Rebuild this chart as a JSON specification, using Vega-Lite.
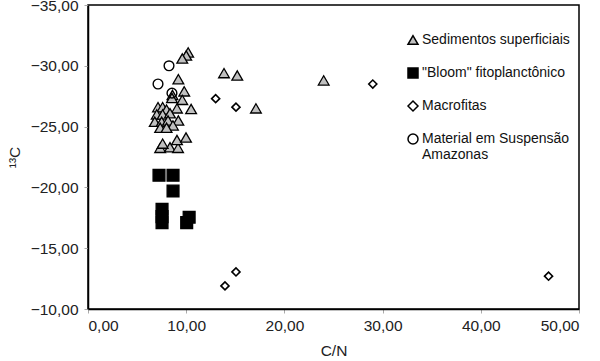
{
  "$schema": "https://vega.github.io/schema/vega-lite/v6.json",
  "width": 491,
  "height": 304,
  "autosize": "none",
  "padding": {"left": 88, "top": 5, "right": 21, "bottom": 52},
  "background": "white",
  "config": {
    "font": "Liberation Sans",
    "view": {"stroke": "#000000", "strokeWidth": 1.5},
    "axis": {
      "grid": false,
      "domainColor": "#000000",
      "domainWidth": 1.5,
      "tickColor": "#aaaaaa",
      "tickSize": 4,
      "labelFontSize": 15.5,
      "labelColor": "#222222",
      "titleFontSize": 15.5,
      "titleFontWeight": "normal",
      "titleColor": "#222222"
    }
  },
  "data": {
    "values": [
      {"cn": 10.2, "c13": -31.1, "serie": "Sedimentos superficiais"},
      {"cn": 10.0, "c13": -30.85, "serie": "Sedimentos superficiais"},
      {"cn": 9.6, "c13": -30.6, "serie": "Sedimentos superficiais"},
      {"cn": 9.2, "c13": -28.9, "serie": "Sedimentos superficiais"},
      {"cn": 9.8, "c13": -27.9, "serie": "Sedimentos superficiais"},
      {"cn": 8.6, "c13": -27.6, "serie": "Sedimentos superficiais"},
      {"cn": 9.6, "c13": -27.2, "serie": "Sedimentos superficiais"},
      {"cn": 8.55, "c13": -27.35, "serie": "Sedimentos superficiais"},
      {"cn": 10.5, "c13": -26.45, "serie": "Sedimentos superficiais"},
      {"cn": 9.06, "c13": -26.5, "serie": "Sedimentos superficiais"},
      {"cn": 7.13, "c13": -26.6, "serie": "Sedimentos superficiais"},
      {"cn": 7.6, "c13": -26.6, "serie": "Sedimentos superficiais"},
      {"cn": 8.0, "c13": -26.4, "serie": "Sedimentos superficiais"},
      {"cn": 7.0, "c13": -26.0, "serie": "Sedimentos superficiais"},
      {"cn": 7.6, "c13": -26.0, "serie": "Sedimentos superficiais"},
      {"cn": 8.35, "c13": -26.1, "serie": "Sedimentos superficiais"},
      {"cn": 9.2, "c13": -25.5, "serie": "Sedimentos superficiais"},
      {"cn": 6.8, "c13": -25.4, "serie": "Sedimentos superficiais"},
      {"cn": 7.5, "c13": -25.4, "serie": "Sedimentos superficiais"},
      {"cn": 8.15, "c13": -25.5, "serie": "Sedimentos superficiais"},
      {"cn": 8.65, "c13": -25.1, "serie": "Sedimentos superficiais"},
      {"cn": 7.35, "c13": -24.9, "serie": "Sedimentos superficiais"},
      {"cn": 8.0, "c13": -24.9, "serie": "Sedimentos superficiais"},
      {"cn": 7.35, "c13": -23.25, "serie": "Sedimentos superficiais"},
      {"cn": 8.35, "c13": -23.3, "serie": "Sedimentos superficiais"},
      {"cn": 9.17, "c13": -23.25, "serie": "Sedimentos superficiais"},
      {"cn": 9.06, "c13": -23.9, "serie": "Sedimentos superficiais"},
      {"cn": 9.98, "c13": -24.1, "serie": "Sedimentos superficiais"},
      {"cn": 7.6, "c13": -23.6, "serie": "Sedimentos superficiais"},
      {"cn": 13.85, "c13": -29.4, "serie": "Sedimentos superficiais"},
      {"cn": 15.2, "c13": -29.2, "serie": "Sedimentos superficiais"},
      {"cn": 24.0, "c13": -28.8, "serie": "Sedimentos superficiais"},
      {"cn": 17.1, "c13": -26.5, "serie": "Sedimentos superficiais"},
      {"cn": 7.23, "c13": -21.0, "serie": "\"Bloom\" fitoplanctônico"},
      {"cn": 8.66, "c13": -21.0, "serie": "\"Bloom\" fitoplanctônico"},
      {"cn": 8.66, "c13": -19.7, "serie": "\"Bloom\" fitoplanctônico"},
      {"cn": 7.54, "c13": -18.2, "serie": "\"Bloom\" fitoplanctônico"},
      {"cn": 7.54, "c13": -17.6, "serie": "\"Bloom\" fitoplanctônico"},
      {"cn": 7.54, "c13": -17.1, "serie": "\"Bloom\" fitoplanctônico"},
      {"cn": 10.3, "c13": -17.55, "serie": "\"Bloom\" fitoplanctônico"},
      {"cn": 10.05, "c13": -17.1, "serie": "\"Bloom\" fitoplanctônico"},
      {"cn": 13.0, "c13": -27.3, "serie": "Macrofitas"},
      {"cn": 15.07, "c13": -26.6, "serie": "Macrofitas"},
      {"cn": 29.0, "c13": -28.5, "serie": "Macrofitas"},
      {"cn": 13.95, "c13": -11.9, "serie": "Macrofitas"},
      {"cn": 15.07, "c13": -13.05, "serie": "Macrofitas"},
      {"cn": 46.9, "c13": -12.7, "serie": "Macrofitas"},
      {"cn": 8.25, "c13": -30.0, "serie": "Material em Suspensão Amazonas"},
      {"cn": 7.13, "c13": -28.5, "serie": "Material em Suspensão Amazonas"},
      {"cn": 8.55, "c13": -27.75, "serie": "Material em Suspensão Amazonas"}
    ]
  },
  "encoding": {
    "x": {
      "field": "cn", "type": "quantitative", "title": "C/N",
      "scale": {"domain": [0, 50], "nice": false, "zero": false},
      "axis": {"values": [0, 10, 20, 30, 40, 50], "labelExpr": "replace(format(datum.value, '.2f'), '.', ',')", "labelPadding": 5, "titlePadding": 10}
    },
    "y": {
      "field": "c13", "type": "quantitative", "title": "¹³C",
      "scale": {"domain": [-35, -10], "reverse": true, "nice": false, "zero": false},
      "axis": {"values": [-35, -30, -25, -20, -15, -10], "labelExpr": "replace(format(datum.value, '.2f'), '.', ',')", "labelPadding": 6, "titlePadding": 8}
    },
    "shape": {
      "field": "serie", "type": "nominal",
      "scale": {
        "domain": ["Sedimentos superficiais", "\"Bloom\" fitoplanctônico", "Macrofitas", "Material em Suspensão Amazonas"],
        "range": ["triangle-up", "square", "diamond", "circle"]
      },
      "legend": {
        "title": null,
        "orient": "none",
        "legendX": 318,
        "legendY": 28,
        "padding": 0,
        "rowPadding": 17,
        "symbolSize": 100,
        "labelFontSize": 14,
        "labelColor": "#111111",
        "labelOffset": 2,
        "labelLimit": 300,
        "labelExpr": "datum.label == 'Material em Suspensão Amazonas' ? ['Material em Suspensão', 'Amazonas'] : datum.label",
        "encode": {
          "symbols": {"update": {"stroke": {"value": "#000000"}, "strokeWidth": {"value": 1.4}, "opacity": {"value": 1}}},
          "labels": {"update": {"dy": {"signal": "datum.label == 'Material em Suspensão Amazonas' ? 8 : 0"}}}
        }
      }
    },
    "fill": {
      "field": "serie", "type": "nominal",
      "scale": {
        "domain": ["Sedimentos superficiais", "\"Bloom\" fitoplanctônico", "Macrofitas", "Material em Suspensão Amazonas"],
        "range": ["#c0c0c0", "#000000", "#ffffff", "transparent"]
      }
    }
  },
  "layer": [
    {
      "transform": [{"filter": "datum.serie == 'Sedimentos superficiais'"}],
      "mark": {"type": "point", "filled": true, "stroke": "#000000", "strokeWidth": 1.3, "opacity": 1, "size": 115}
    },
    {
      "transform": [{"filter": "datum.serie == '\"Bloom\" fitoplanctônico'"}],
      "mark": {"type": "point", "filled": true, "stroke": "#000000", "strokeWidth": 1.3, "opacity": 1, "size": 140}
    },
    {
      "transform": [{"filter": "datum.serie == 'Macrofitas'"}],
      "mark": {"type": "point", "filled": true, "stroke": "#000000", "strokeWidth": 1.6, "opacity": 1, "size": 65}
    },
    {
      "transform": [{"filter": "datum.serie == 'Material em Suspensão Amazonas'"}],
      "mark": {"type": "point", "filled": true, "stroke": "#000000", "strokeWidth": 1.4, "opacity": 1, "size": 95}
    }
  ]
}
